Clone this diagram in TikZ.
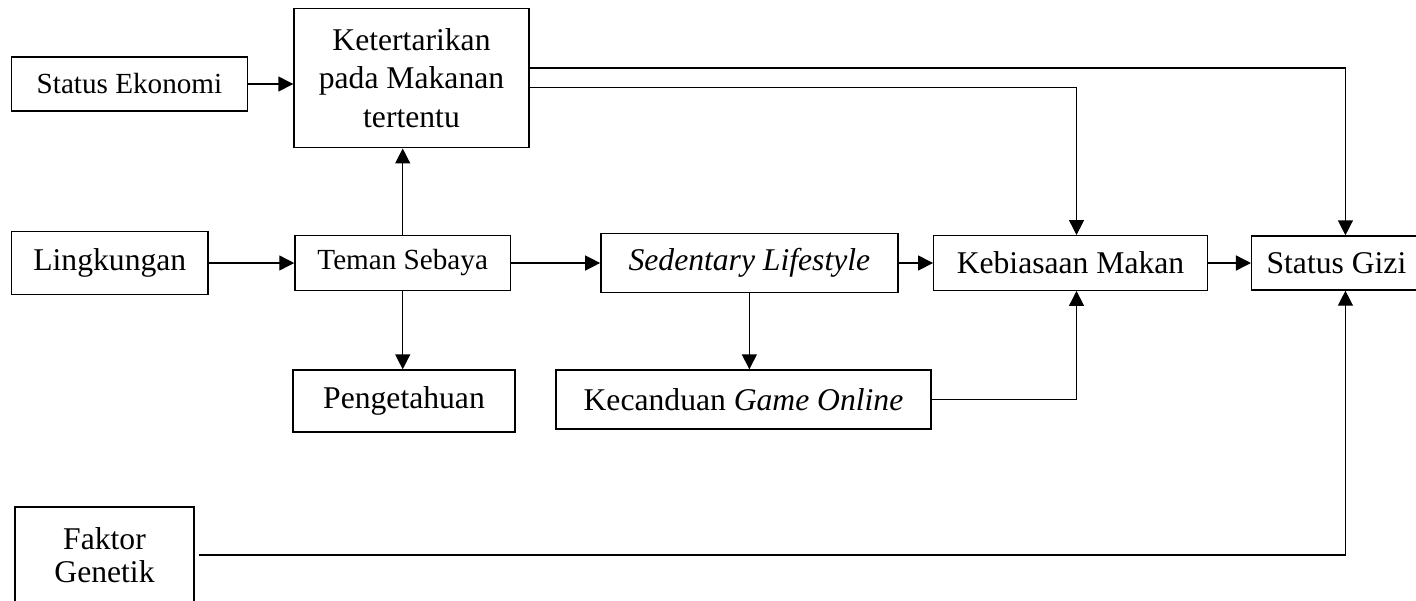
\documentclass[tikz,border=0pt]{standalone}
\usepackage{fontspec}
\setmainfont{Liberation Serif}
\usetikzlibrary{positioning,arrows.meta}

\begin{document}
\begin{tikzpicture}[
			kotak/.style={
				draw,
				line width=0.8pt,
				inner sep=0pt,
				align=center,
				font=\fontsize{18}{22}\selectfont
			},
			kecil/.style={
				font=\fontsize{16.6}{20}\selectfont
			},
			panah/.style={
				line width=0.8pt,
				-{Triangle[length=3mm,width=3mm]}
			}
			]
			\useasboundingbox (0,0) rectangle (28.32,-12);

			\node[kotak,kecil,minimum width=4.71cm,minimum height=1.08cm] at (2.59,-1.68)
			  (ekon) {Status Ekonomi};
			\node[kotak,minimum width=4.70cm,minimum height=2.79cm] at (8.23,-1.56)
			  (ket) {Ketertarikan\\pada Makanan\\tertentu};

			% baris tengah
			\node[kotak,minimum width=3.93cm,minimum height=1.25cm] at (2.196,-5.26)
			  (ling) {Lingkungan};
			\node[kotak,kecil,minimum width=4.31cm,minimum height=1.09cm,right=1.71cm of ling]
			  (teman) {Teman Sebaya};
			\node[kotak,minimum width=5.94cm,minimum height=1.17cm,right=1.78cm of teman]
			  (sed) {\textit{Sedentary Lifestyle}};
			\node[kotak,minimum width=5.47cm,minimum height=1.09cm,right=0.69cm of sed]
			  (keb) {Kebiasaan Makan};
			\node[kotak,minimum width=3.39cm,minimum height=1.08cm,right=0.86cm of keb]
			  (gizi) {Status Gizi};

			\node[kotak,minimum width=4.44cm,minimum height=1.24cm] at (8.08,-8.02)
			  (peng) {Pengetahuan};
			\node[kotak,minimum width=7.50cm,minimum height=1.18cm] at (14.87,-7.99)
			  (kec) {Kecanduan \textit{Game Online}};
			\node[kotak,minimum width=3.58cm,minimum height=1.92cm,
			  font=\fontsize{18}{19.1}\selectfont] at (2.09,-11.1)
			  (gen) {Faktor\\Genetik};

			\draw[panah] (ekon.east) -- (ekon.east -| ket.west);
			\draw[panah] ([yshift=0.2cm]ket.east) -| ([xshift=0.18cm]gizi.north);
			\draw[panah] ([yshift=-0.19cm]ket.east) -| ([xshift=0.12cm]keb.north);
			\draw[panah] (teman.north) -- (teman.north |- ket.south);
			\draw[panah] (teman.south) -- (teman.south |- peng.north);
			\draw[panah] (sed.south) -- (sed.south |- kec.north);
			\draw[panah] (kec.east) -| ([xshift=0.12cm]keb.south);
			\draw[panah] ([xshift=0.08cm]gen.east) -| ([xshift=0.18cm]gizi.south);

			\draw[panah] (ling) -- (teman);
			\draw[panah] (teman) -- (sed);
			\draw[panah] (sed) -- (keb);
			\draw[panah] (keb) -- (gizi);
        \end{tikzpicture}
\end{document}
